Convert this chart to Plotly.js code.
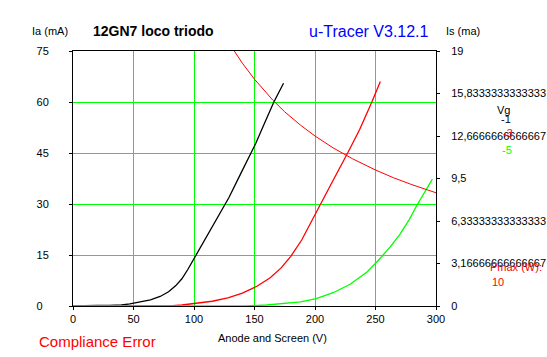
<!DOCTYPE html>
<html>
<head>
<meta charset="utf-8">
<script src="https://cdn.plot.ly/plotly-3.0.1.min.js"></script>
<style>
html,body{margin:0;padding:0;background:#fff;}
#chart{width:547px;height:357px;}
#chart .gridlayer path, #chart .xlines-above, #chart .ylines-above, #chart .xtick, #chart .ytick, #chart .y2tick{shape-rendering:crispEdges;}
</style>
</head>
<body>
<div id="chart"></div>
<script>
// ---- data ----
const vg1_V = [0, 10, 20, 30, 40, 47, 55, 64, 72, 79, 85, 90, 95, 101, 107, 112, 120, 129, 138, 147, 151, 158, 166, 174];
const vg1_I = [0, 0.15, 0.2, 0.2, 0.3, 0.6, 1.1, 1.8, 2.8, 4.2, 6.0, 8.0, 10.8, 14.5, 18.2, 21.3, 26.3, 32, 38.5, 45, 47.8, 53.5, 60, 65.5];
const vg3_V = [0, 80, 90, 101, 115, 128, 140, 152, 163, 172, 180, 189, 201, 215, 227, 237, 247, 254];
const vg3_I = [0, 0, 0.3, 0.8, 1.4, 2.4, 3.8, 5.8, 8.3, 11.2, 14.6, 19.4, 27.7, 37, 45, 52, 60, 66];
const vg5_V = [0, 143, 160, 172, 188, 201, 215, 229, 243, 252, 262, 270, 278, 284, 290, 297];
const vg5_I = [0, 0, 0.3, 0.6, 1.2, 2.2, 3.9, 6.4, 10, 13.3, 17.3, 21, 25.5, 29.5, 33, 37.3];
const pmax_V = [133.3, 140, 150, 165, 175, 188, 200, 215, 231, 250, 265, 280, 300];
const pmax_I = [75, 71.4, 66.7, 60.6, 57.1, 53.2, 50, 46.5, 43.3, 40, 37.7, 35.7, 33.3];
const xTicks = [0, 50, 100, 150, 200, 250, 300];
const yTicks = [0, 15, 30, 45, 60, 75];
const yTickText = ['0\u2007', '15', '30', '45', '60', '75'];
const y2Ticks = [0, 19/6, 38/6, 9.5, 76/6, 95/6, 19];
const y2TickText = ['0', '3,16666666666667', '6,33333333333333', '9,5', '12,6666666666667', '15,8333333333333', '19'];

const FONT = 'Liberation Sans, Arial, sans-serif';
const L = 73, R = 436, T = 51, B = 306;
const px = x => (x - L) / (R - L);
const py = y => (B - y) / (B - T);

const traces = [
  {x: vg1_V, y: vg1_I, mode: 'lines', line: {color: '#000000', width: 1.3}, hoverinfo: 'skip'},
  {x: vg3_V, y: vg3_I, mode: 'lines', line: {color: '#FF0000', width: 1.3}, hoverinfo: 'skip'},
  {x: vg5_V, y: vg5_I, mode: 'lines', line: {color: '#00FF00', width: 1.3}, hoverinfo: 'skip'},
  {x: pmax_V, y: pmax_I, mode: 'lines', line: {color: '#FF0000', width: 1}, hoverinfo: 'skip'},
  {x: [0], y: [0], yaxis: 'y2', mode: 'markers', marker: {opacity: 0}, hoverinfo: 'skip'}
];

function ann(text, x, y, color, size, extra) {
  return Object.assign({text: text, xref: 'paper', yref: 'paper', x: px(x), y: py(y),
    xanchor: 'center', yanchor: 'middle', showarrow: false,
    font: {family: FONT, size: size, color: color}}, extra || {});
}

const layout = {
  width: 547, height: 357,
  margin: {l: L, r: 547 - R, t: T, b: 357 - B, pad: 0},
  paper_bgcolor: '#ffffff', plot_bgcolor: '#ffffff',
  showlegend: false,
  font: {family: FONT, size: 11, color: '#000'},
  xaxis: {range: [0, 300], tickvals: xTicks, ticktext: xTicks.map(String),
    showgrid: true, gridcolor: '#00FF00', gridwidth: 1, zeroline: false,
    showline: true, linecolor: '#000', linewidth: 1, mirror: true,
    ticks: 'outside', ticklen: 3, tickcolor: '#000', tickfont: {family: FONT, size: 11, color: '#000'}},
  yaxis: {range: [0, 75], tickvals: yTicks, ticktext: yTickText,
    showgrid: true, gridcolor: '#00FF00', gridwidth: 1, zeroline: false,
    showline: true, linecolor: '#000', linewidth: 1,
    ticks: 'outside', ticklen: 3, tickcolor: '#000', ticklabelstandoff: 18,
    tickfont: {family: FONT, size: 11, color: '#000'}},
  yaxis2: {range: [0, 19], overlaying: 'y', side: 'right', tickvals: y2Ticks, ticktext: y2TickText,
    showgrid: false, zeroline: false, showline: true, linecolor: '#000', linewidth: 1,
    ticks: 'outside', ticklen: 3, tickcolor: '#000', ticklabelstandoff: 9,
    tickfont: {family: FONT, size: 11, color: '#000'}},
  annotations: [
    ann('Ia (mA)', 50, 31, '#000', 11),
    ann('<b>12GN7 loco triodo</b>', 153, 31, '#000', 14),
    ann('u-Tracer V3.12.1', 369, 31, '#0000FF', 16),
    ann('Is (ma)', 463, 31, '#000', 11),
    ann('Vg', 503, 110, '#000', 11),
    ann('-1', 506, 119, '#000', 11),
    ann('-3', 508, 133, '#FF0000', 11),
    ann('-5', 507, 150, '#00FF00', 11),
    ann('Pmax (W):', 516, 267, '#FF0000', 11),
    ann('10', 498, 282, '#FF0000', 11),
    ann('Compliance Error', 97, 341, '#FF0000', 15),
    ann('Anode and Screen (V)', 272, 338, '#000', 11)
  ]
};

Plotly.newPlot('chart', traces, layout, {staticPlot: true, displayModeBar: false});
</script>
</body>
</html>
